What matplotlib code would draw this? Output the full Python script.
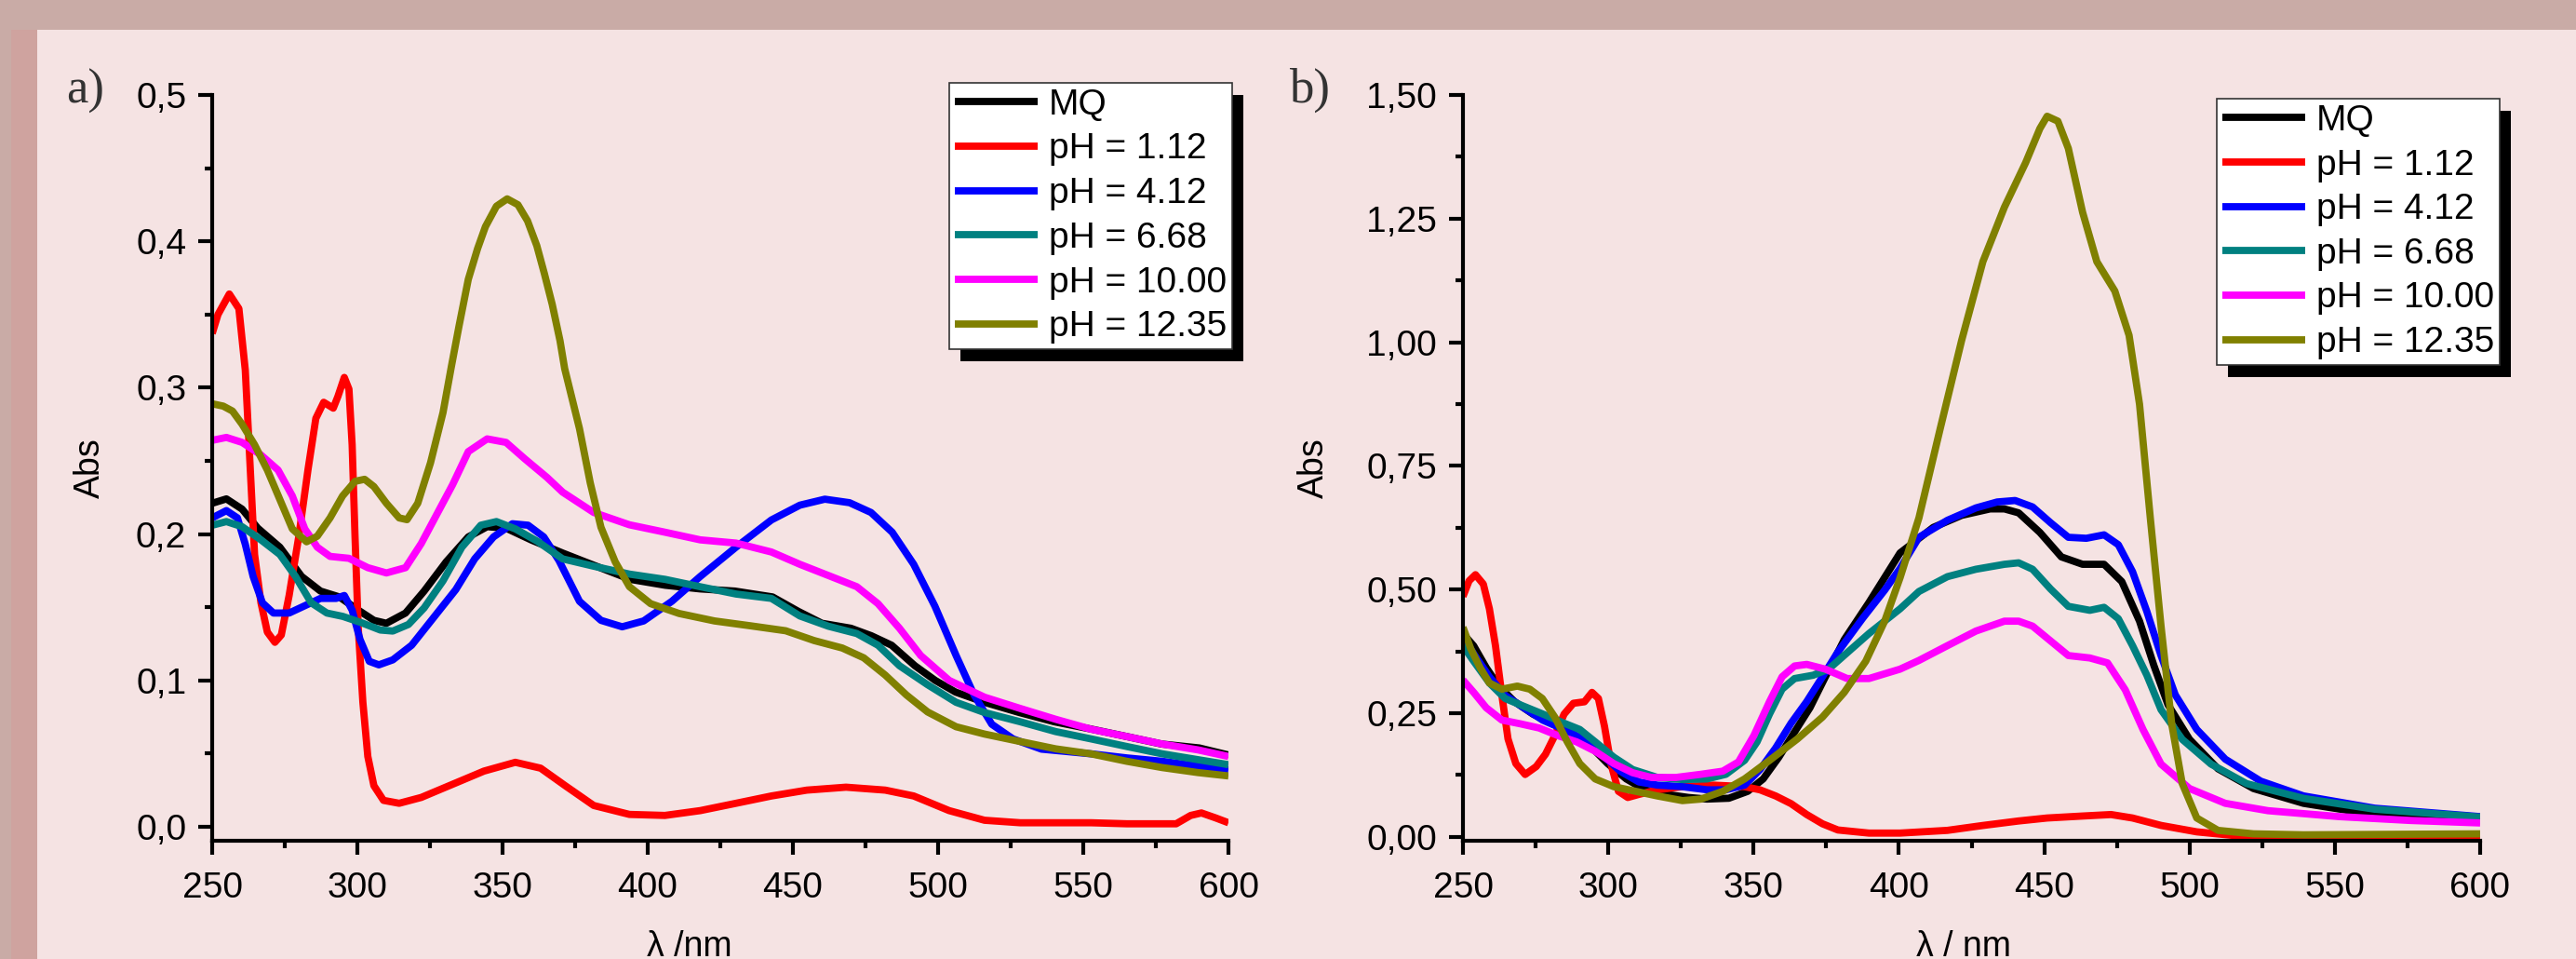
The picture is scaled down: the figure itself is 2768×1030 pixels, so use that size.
import matplotlib
matplotlib.use('Agg')
import matplotlib.pyplot as plt
from matplotlib.patches import Rectangle
from matplotlib.ticker import MultipleLocator
from matplotlib.transforms import IdentityTransform

plt.rcParams['font.family'] = ['Liberation Sans', 'DejaVu Sans']

labels = ['MQ', 'pH = 1.12', 'pH = 4.12', 'pH = 6.68', 'pH = 10.00', 'pH = 12.35']
colors = ['#000000', '#ff0000', '#0000ff', '#008080', '#ff00ff', '#808000']

x_ticks = [250, 300, 350, 400, 450, 500, 550, 600]
a_yticks = [0.0, 0.1, 0.2, 0.3, 0.4, 0.5]
a_yticklabels = ['0,0', '0,1', '0,2', '0,3', '0,4', '0,5']
b_yticks = [0.0, 0.25, 0.5, 0.75, 1.0, 1.25, 1.5]
b_yticklabels = ['0,00', '0,25', '0,50', '0,75', '1,00', '1,25', '1,50']

# panel a)
a_mq_wl = [250, 254.9, 260.3, 265.7, 273.3, 280.8, 287.3, 293.8, 300.3, 305.7, 310, 316.6, 323, 330.6,
           338.2, 344.7, 351.2, 359.8, 370.7, 381, 394, 406, 418, 430, 443, 452, 460, 470, 477, 484,
           492, 499, 506, 516, 528, 540, 553, 565, 577, 590, 600]
a_mq_abs = [.221, .224, .217, .204, .191, .171, .161, .157, .148, .141, .139, .146, .161, .181,
            .198, .205, .204, .196, .187, .179, .169, .165, .1625, .161, .157, .147, .139, .1356, .1305, .124,
            .110, .100, .092, .085, .078, .0717, .0666, .0616, .0565, .0538, .049]

a_red_wl = [250, 252, 255.9, 259.2, 261.4, 263, 264.6, 266.8, 269, 271.6, 273.8, 276.5, 279.8, 283,
            285.7, 288.4, 291.7, 293.3, 295.5, 297.1, 298.2, 299.2, 300.3, 301.9, 303.6, 305.7, 309,
            314.4, 322, 332.8, 343.6, 354.4, 363.1, 371.6, 381.4, 393.7, 405.9, 418.1, 430.4, 442.6,
            454.8, 468.3, 481.8, 491.6, 503.8, 516, 528.3, 540.5, 552.7, 565, 582, 587, 590.7, 595.6, 600]
a_red_abs = [.337, .350, .364, .354, .312, .249, .186, .153, .133, .126, .131, .158, .198, .244,
             .279, .290, .286, .294, .307, .299, .261, .198, .136, .085, .048, .028, .018,
             .016, .020, .029, .038, .044, .040, .028, .0145, .0084, .0077, .011, .016, .021,
             .025, .027, .025, .021, .011, .0044, .0027, .0027, .0027, .002, .002, .0077, .0094, .006, .0027]

a_blue_wl = [250, 254.9, 258.7, 261.4, 264.1, 267.3, 271.1, 276.5, 281.9, 287.3, 292.7, 295.5, 298.2,
             300.9, 304.1, 307.4, 312.2, 318.7, 326.3, 333.9, 340.4, 346.9, 353.4, 358.8, 364.2, 369.4,
             376.5, 383.9, 391.2, 398.6, 408.3, 418.1, 430.4, 442.6, 452.4, 461, 469.5, 476.9, 484.2,
             491.6, 498.9, 506.2, 512.4, 518.5, 525.8, 535.6, 552.7, 565, 577.2, 589.5, 600]
a_blue_abs = [.211, .216, .211, .193, .171, .153, .146, .146, .151, .156, .156, .158, .148,
              .128, .113, .1106, .114, .124, .143, .162, .183, .198, .207, .206, .198, .182,
              .154, .141, .1366, .1406, .154, .171, .191, .2096, .2197, .2238, .2214, .2147, .2012,
              .1793, .1507, .117, .090, .070, .060, .053, .0498, .047, .0447, .0414, .039]

a_teal_wl = [250, 254.9, 260.3, 266.8, 273.3, 278.7, 284.1, 289.5, 295, 301.4, 307.9, 312.2, 317.6, 323,
             329.5, 336, 342.5, 347.9, 354.4, 362, 370.7, 381.4, 393.7, 406, 418, 430.4, 442.6, 452.4,
             462.2, 472, 479.3, 486.7, 496.4, 506.2, 516, 528.3, 540.5, 552.7, 565, 577.2, 589.5, 600]
a_teal_abs = [.206, .2085, .205, .196, .186, .171, .153, .146, .1437, .1394, .1344, .1337, .1382, .1495,
              .168, .191, .206, .2085, .2035, .195, .183, .178, .1726, .169, .164, .159, .156, .144,
              .137, .132, .124, .110, .097, .085, .078, .0717, .065, .060, .0548, .0498, .0458, .0424]

a_mag_wl = [250, 254.9, 260.3, 266.8, 272.7, 277.6, 281.9, 286.2, 290.6, 297.1, 303.6, 310, 316.6, 322,
            327.4, 332.8, 338.2, 344.7, 351.2, 357.7, 365.3, 370.7, 381.4, 393.7, 406, 418.1, 430.4,
            442.6, 452.4, 461, 472, 479.3, 486.7, 494, 503.8, 516, 528.3, 540.5, 552.7, 565, 577.2,
            589.5, 600]
a_mag_abs = [.264, .266, .2626, .254, .2437, .226, .2035, .191, .1847, .1834, .177, .1734, .177, .1935,
             .2136, .2337, .2563, .265, .2626, .2513, .2387, .2286, .2147, .2063, .2012, .196, .1938,
             .1877, .1793, .1726, .164, .1524, .1356, .117, .100, .0885, .0808, .0734, .0666, .0616, .0565,
             .0525, .048]

a_olive_wl = [250, 253.8, 257, 260.3, 264.6, 269, 273.3, 277.6, 282.5, 286.2, 290.6, 294.9, 299.2, 302.5,
              305.7, 310, 314.4, 317.1, 320.8, 325.2, 329.5, 332.4, 335, 338.2, 341.4, 344.1, 347.9, 351.6,
              355.3, 358.6, 361.8, 364.4, 367.1, 369.8, 371.4, 376.5, 380.2, 383.9, 388.8, 393.7, 401,
              410.8, 423, 435.3, 447.5, 457.3, 467, 474.4, 481.8, 489.1, 496.4, 506.2, 516, 528.3, 540.5,
              552.7, 565, 577.2, 589.5, 600]
a_olive_abs = [.289, .2874, .284, .275, .261, .2437, .2236, .2035, .1947, .1985, .211, .226, .236, .2374,
               .2324, .221, .211, .2098, .221, .2487, .283, .3147, .342, .374, .395, .410, .424, .429,
               .425, .414, .397, .378, .357, .332, .313, .272, .235, .2046, .181, .164, .1524,
               .1457, .1406, .1373, .1339, .1272, .1221, .1154, .1036, .090, .0784, .0683, .0633, .0582, .0532,
               .0498, .0447, .0404, .037, .0347]

# panel b)
b_mq_wl = [250, 253.7, 258, 262.3, 267.7, 274.1, 280.5, 286.9, 293.4, 299.8, 306.2, 312.6, 320.1, 327.6,
           334, 341.5, 348, 353.3, 358.7, 364, 369.4, 374.7, 381.2, 389.7, 400.4, 411.8, 421.6, 431.4,
           436.3, 441.2, 448.5, 455.9, 463.2, 470.6, 476.7, 482.8, 487.7, 492.6, 500, 509.8, 522,
           539.2, 563.7, 600]
b_mq_abs = [.411, .386, .342, .305, .2735, .248, .2297, .211, .186, .148, .117, .095, .0857, .0795,
            .0763, .078, .092, .117, .161, .211, .261, .3235, .3986, .4737, .574, .6255, .650, .663,
            .663, .655, .6155, .566, .551, .551, .516, .436, .347, .267, .197, .1375, .0976,
            .0677, .0448, .0329]

b_red_wl = [250, 252.1, 254.3, 257, 259.1, 261.2, 263.4, 265.5, 268.2, 271.4, 275.2, 278.4, 281.6, 284.8,
            288, 291.8, 294.4, 296.6, 298.7, 300.9, 303.5, 306.7, 310.5, 316.9, 325.5, 336.2, 346.9,
            352.2, 357.6, 362.9, 368.3, 373.7, 379, 389.7, 400.4, 416.7, 428.9, 441.2, 451, 463.2,
            473, 480.4, 490.2, 502.5, 514.7, 539.2, 600]
b_red_abs = [.486, .5175, .530, .511, .461, .386, .286, .198, .148, .126, .142, .167, .2046, .248,
             .270, .273, .292, .2797, .2234, .148, .092, .0795, .0857, .095, .1014, .1045, .1014,
             .095, .0826, .067, .045, .0263, .0138, .0075, .0075, .013, .0229, .032, .038, .042,
             .045, .038, .023, .010, .003, .0, .002]

b_blue_wl = [250, 253.7, 259.1, 264.5, 270.9, 277.4, 284.8, 291.2, 297.7, 304.1, 310.5, 316.9, 325.5,
             334, 340.5, 346.9, 352.2, 357.6, 362.9, 368.3, 373.7, 379, 387.6, 395.1, 400.4, 406.9,
             416.7, 426.5, 433.8, 440, 446, 452.2, 458.3, 464.5, 470.6, 475.5, 480.4, 485.3, 490.2,
             495.1, 502.5, 512.3, 524.5, 539.2, 563.7, 600]
b_blue_abs = [.405, .370, .3235, .286, .261, .236, .217, .198, .167, .1327, .111, .1045, .1014,
              .095, .095, .1045, .1358, .1796, .2297, .2735, .3235, .3736, .4424, .4987, .5426, .6056,
              .640, .665, .677, .680, .667, .635, .6056, .6036, .6106, .5906, .536, .456, .3665,
              .287, .217, .157, .1125, .0827, .0578, .0408]

b_teal_wl = [250, 253.7, 259.1, 264.5, 270.9, 277.4, 284.8, 290.2, 295.5, 301.9, 308.4, 316.9, 325.5,
             334, 340.5, 346.9, 351.2, 355.5, 359.8, 364.1, 370.5, 375.8, 381.2, 389.7, 400.4, 406.9,
             416.7, 426.5, 436.3, 441.2, 446, 452.2, 458.3, 465.7, 470.6, 475.5, 480.4, 485.3, 490.2,
             497.5, 507.4, 519.6, 539.2, 563.7, 600]
b_teal_abs = [.386, .355, .311, .2797, .264, .2484, .2297, .217, .192, .161, .136, .120, .1158,
              .117, .1264, .1546, .192, .2484, .2985, .320, .3267, .339, .367, .411, .461, .496,
              .526, .541, .551, .554, .541, .501, .466, .458, .464, .441, .3865, .327, .257,
              .197, .147, .1076, .0777, .0558, .0398]

b_mag_wl = [250, 253.7, 258, 263.4, 269.8, 276.2, 282.7, 289.1, 295.5, 301.9, 308.4, 314.8, 323.3, 331.9,
            339.4, 344.8, 350.1, 355.5, 359.8, 364.1, 368.3, 374.7, 382.2, 389.7, 400.4, 406.9, 416.7,
            426.5, 436.3, 441.2, 446, 452.2, 458.3, 465.7, 471.8, 477.9, 484, 490.2, 500, 512.3, 527,
            551.5, 576, 600]
b_mag_abs = [.317, .292, .261, .236, .2284, .220, .2046, .192, .173, .148, .1295, .120, .120, .1264,
             .1327, .1514, .2046, .2735, .3235, .3454, .3486, .339, .320, .320, .339, .3566, .3865,
             .416, .436, .436, .426, .396, .3665, .3616, .3516, .297, .217, .147, .0976, .0677, .0528,
             .0408, .033, .028]

b_olive_wl = [250, 252.7, 255.9, 259.1, 263.4, 268.7, 273, 277.3, 281.6, 285.9, 290.2, 295.5, 301.9,
              309.4, 316.9, 325.5, 331.9, 339.4, 346.9, 355.5, 365.1, 373.7, 381.2, 388.6, 395.1, 400.4,
              406.9, 414.2, 421.6, 428.9, 436.3, 443.6, 448.5, 451, 454.7, 458.3, 463.2, 468.1, 474.3,
              479.2, 482.8, 486.5, 490.2, 493.9, 497.5, 502.5, 509.8, 522, 539.2, 600]
b_olive_abs = [.4237, .380, .342, .311, .2985, .3047, .2985, .2797, .242, .192, .148, .117, .1014,
               .092, .0826, .0732, .0763, .092, .117, .1546, .198, .242, .292, .355, .436, .5238,
               .645, .825, 1.004, 1.163, 1.273, 1.363, 1.432, 1.457, 1.447, 1.392, 1.263, 1.163, 1.1036,
               1.014, .8745, .645, .426, .227, .1076, .038, .013, .006, .004, .006]

a_series = [(a_mq_wl, a_mq_abs), (a_red_wl, a_red_abs), (a_blue_wl, a_blue_abs),
            (a_teal_wl, a_teal_abs), (a_mag_wl, a_mag_abs), (a_olive_wl, a_olive_abs)]
b_series = [(b_mq_wl, b_mq_abs), (b_red_wl, b_red_abs), (b_blue_wl, b_blue_abs),
            (b_teal_wl, b_teal_abs), (b_mag_wl, b_mag_abs), (b_olive_wl, b_olive_abs)]

W, H = 2768, 1030
fig = plt.figure(figsize=(W / 100, H / 100), dpi=100)
fig.patch.set_facecolor('#c9aba6')
# left strip of the frame, then the light inner background
fig.add_artist(Rectangle((12 / W, 0), 28 / W, 1 - 32 / H, transform=fig.transFigure,
                         facecolor='#cfa39f', edgecolor='none', zorder=-2))
fig.add_artist(Rectangle((40 / W, 0), 1, 1 - 32 / H, transform=fig.transFigure,
                         facecolor='#f5e3e3', edgecolor='none', zorder=-1))

ax_a = fig.add_axes([228 / W, (H - 903) / H, 1092 / W, 801 / H])
ax_b = fig.add_axes([1572 / W, (H - 903) / H, 1093 / W, 801 / H])


def setup_axes(ax, series, yticks, yticklabels, ylim, yminor):
    for (wl, ab), c, lab in zip(series, colors, labels):
        ax.plot(wl, ab, color=c, lw=5.6, label=lab, solid_joinstyle='round', solid_capstyle='butt')
    ax.set_facecolor('none')
    ax.spines['top'].set_visible(False)
    ax.spines['right'].set_visible(False)
    ax.spines['left'].set_linewidth(3)
    ax.spines['bottom'].set_linewidth(3)
    ax.set_xlim(250, 600)
    ax.set_ylim(*ylim)
    ax.set_xticks(x_ticks)
    ax.xaxis.set_minor_locator(MultipleLocator(25))
    ax.set_yticks(yticks)
    ax.set_yticklabels(yticklabels)
    ax.yaxis.set_minor_locator(MultipleLocator(yminor))
    ax.tick_params(which='major', direction='out', length=11, width=3, labelsize=28)
    ax.tick_params(which='minor', direction='out', length=5.5, width=3)
    ax.tick_params(axis='x', which='major', pad=13)
    ax.tick_params(axis='y', which='major', pad=9)


setup_axes(ax_a, a_series, a_yticks, a_yticklabels, (-0.0096, 0.5), 0.05)
setup_axes(ax_b, b_series, b_yticks, b_yticklabels, (-0.008, 1.5), 0.125)

ax_a.text(-0.12, 0.5, 'Abs', transform=ax_a.transAxes, rotation=90, ha='center', va='center', fontsize=27)
ax_b.text(-0.1464, 0.5, 'Abs', transform=ax_b.transAxes, rotation=90, ha='center', va='center', fontsize=27)
ax_a.text(0.47, -0.142, 'λ /nm', transform=ax_a.transAxes, ha='center', va='center', fontsize=27)
ax_b.text(0.492, -0.142, 'λ / nm', transform=ax_b.transAxes, ha='center', va='center', fontsize=27)

fig.text(92 / W, 1 - 98 / H, 'a)', family='Liberation Serif', fontsize=38, ha='center', va='center',
         color='#333333')
fig.text(1407 / W, 1 - 97 / H, 'b)', family='Liberation Serif', fontsize=38, ha='center', va='center',
         color='#333333')

legends = []
for ax, right, top in [(ax_a, 1324, 89), (ax_b, 2686, 106)]:
    leg = ax.legend(loc='upper right', bbox_to_anchor=(right / W, 1 - top / H), bbox_transform=fig.transFigure,
                    borderaxespad=0, fontsize=28, handlelength=2.3, handletextpad=0.3, labelspacing=0.3,
                    borderpad=0.15, fancybox=False, framealpha=1, edgecolor='#333333', facecolor='white')
    leg.get_frame().set_linewidth(1.2)
    for line in leg.get_lines():
        line.set_linewidth(5.6)
    legends.append(leg)

# solid black shadow, offset down-right like the original
fig.canvas.draw()
for leg in legends:
    bb = leg.get_window_extent()
    fig.add_artist(Rectangle((bb.x0 + 12, bb.y0 - 13), bb.width, bb.height, transform=IdentityTransform(),
                             facecolor='black', edgecolor='none', zorder=-0.5))

fig.savefig('out.png', dpi=100, facecolor=fig.get_facecolor())
